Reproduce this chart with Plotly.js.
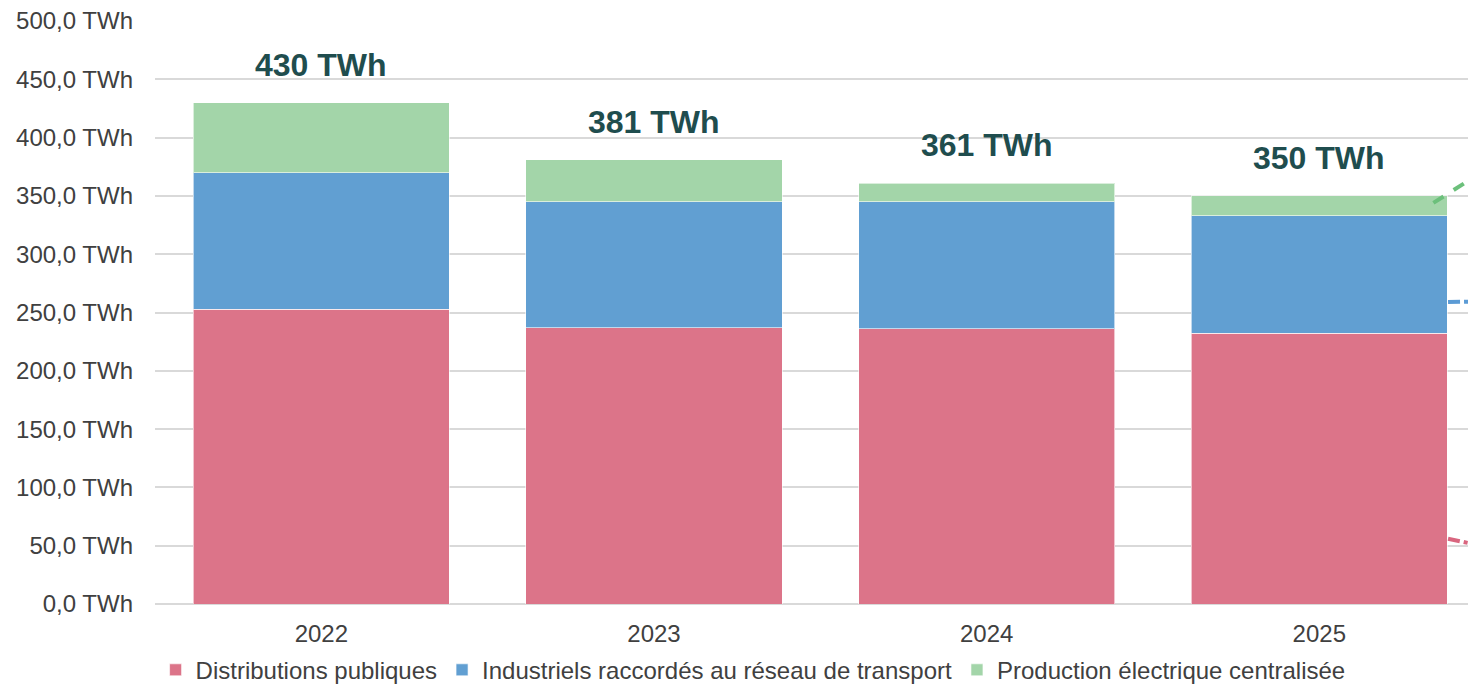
<!DOCTYPE html>
<html>
<head>
<meta charset="utf-8">
<script src="https://cdn.plot.ly/plotly-3.0.1.min.js"></script>
<style>
  html, body { margin: 0; padding: 0; background: #ffffff; }
  #chart { width: 1468px; height: 685px; }
</style>
</head>
<body>
<div id="chart"></div>
<script>
// ---- Data ----
const years = ["2022", "2023", "2024", "2025"];
const distributionsPubliques = [253, 237, 236, 232];
const industrielsTransport = [117, 108, 109, 101];
const productionCentralisee = [60, 36, 16, 17];
const seriesNames = [
  "Distributions publiques",
  "Industriels raccordés au réseau de transport",
  "Production électrique centralisée"
];
const yTickValues = [0, 50, 100, 150, 200, 250, 300, 350, 400, 450, 500];

// Trend lines leaving the chart on the right (positions on the category index scale)
const trendX = [3.343, 3.8];
const trendProduction = [344, 427];
const trendXb = [3.387, 3.8];
const trendIndustriels = [259, 261];
const trendDistributions = [56, 31];

// ---- Build ----
const idx = years.map((_, i) => i);
const totals = idx.map(i => distributionsPubliques[i] + industrielsTransport[i] + productionCentralisee[i]);

const colRed = "#DC7489";
const colBlue = "#619FD2";
const colGreen = "#A3D5A9";
const barLine = { color: "rgba(255,255,255,0.6)", width: 1 };

const traces = [
  { type: "bar", name: seriesNames[0], x: idx, y: distributionsPubliques, width: 0.77,
    marker: { color: colRed, line: barLine } },
  { type: "bar", name: seriesNames[1], x: idx, y: industrielsTransport, width: 0.77,
    marker: { color: colBlue, line: barLine } },
  { type: "bar", name: seriesNames[2], x: idx, y: productionCentralisee, width: 0.77,
    marker: { color: colGreen, line: barLine } },
  { type: "scatter", mode: "lines", x: trendX, y: trendProduction, showlegend: false, hoverinfo: "skip",
    line: { color: "#6CC07B", width: 4, dash: "dash" } },
  { type: "scatter", mode: "lines", x: trendXb, y: trendIndustriels, showlegend: false, hoverinfo: "skip",
    line: { color: "#5B9BD5", width: 4, dash: "dashdot" } },
  { type: "scatter", mode: "lines", x: trendXb, y: trendDistributions, showlegend: false, hoverinfo: "skip",
    line: { color: "#D9667F", width: 4, dash: "dashdot" } }
];

const annotations = idx.map(i => ({
  x: i, y: totals[i], xref: "x", yref: "y",
  text: "<b>" + totals[i] + " TWh</b>",
  showarrow: false, yanchor: "bottom", yshift: 18,
  font: { family: "Liberation Sans, Arial, sans-serif", size: 32, color: "#1F4D4E" }
}));

const layout = {
  width: 1468, height: 685,
  margin: { l: 155, r: 0, t: 21, b: 81, autoexpand: false },
  paper_bgcolor: "#ffffff", plot_bgcolor: "#ffffff",
  barmode: "stack",
  font: { family: "Liberation Sans, Arial, sans-serif", size: 24, color: "#404040" },
  xaxis: {
    range: [-0.5, 3.447],
    tickvals: idx, ticktext: years,
    showgrid: false, zeroline: false,
    showline: false, ticks: "", ticklabelstandoff: 13,
    tickfont: { size: 24, color: "#404040" }
  },
  yaxis: {
    range: [0, 500],
    tickvals: yTickValues,
    ticktext: yTickValues.map(v => v.toFixed(1).replace(".", ",") + " TWh"),
    showgrid: true, gridcolor: "#D9D9D9", gridwidth: 2,
    zeroline: true, zerolinecolor: "#D9D9D9", zerolinewidth: 2,
    ticks: "", ticklabelstandoff: 21,
    tickfont: { size: 24, color: "#404040" }
  },
  showlegend: true,
  legend: {
    orientation: "h", xref: "container", yref: "paper",
    x: 0.513, xanchor: "center", y: -0.075, yanchor: "top",
    bgcolor: "rgba(0,0,0,0)",
    font: { size: 24, color: "#404040" },
    traceorder: "normal", itemclick: false
  },
  annotations: annotations
};

Plotly.newPlot("chart", traces, layout, { displayModeBar: false, staticPlot: true });
</script>
</body>
</html>
